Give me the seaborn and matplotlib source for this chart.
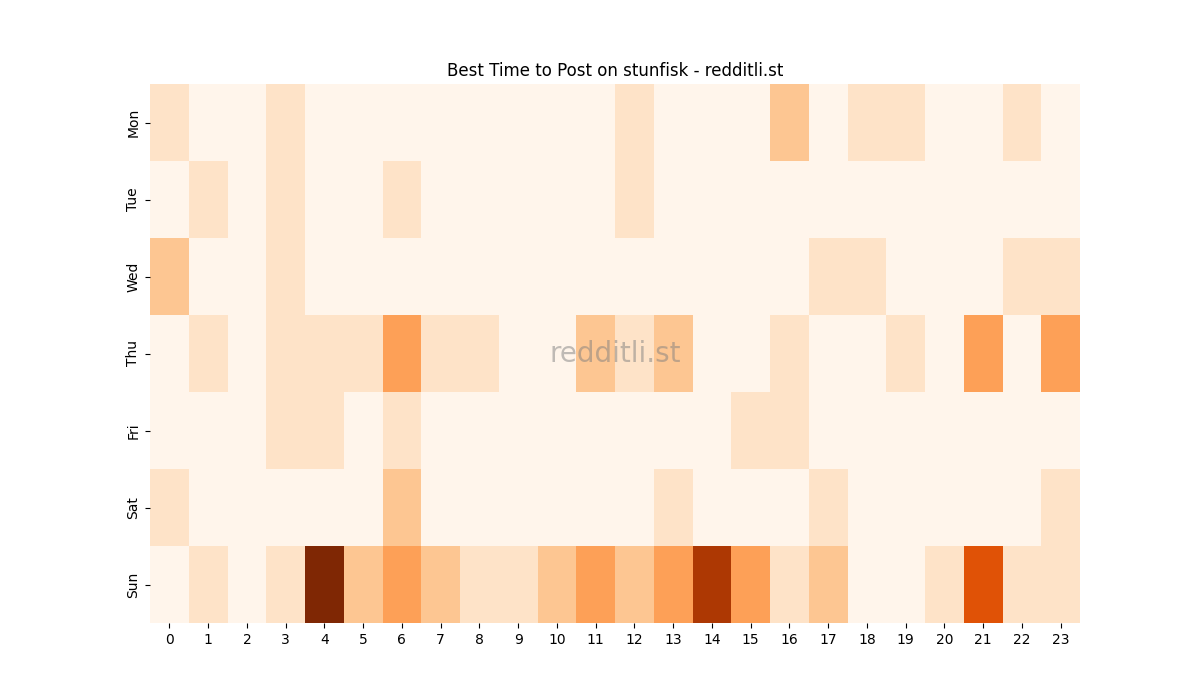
import seaborn as sns
import matplotlib.pyplot as plt
import pandas as pd

days = ["Mon", "Tue", "Wed", "Thu", "Fri", "Sat", "Sun"]
hours = list(range(24))

mon = [1, 0, 0, 1, 0, 0, 0, 0, 0, 0, 0, 0, 1, 0, 0, 0, 2, 0, 1, 1, 0, 0, 1, 0]
tue = [0, 1, 0, 1, 0, 0, 1, 0, 0, 0, 0, 0, 1, 0, 0, 0, 0, 0, 0, 0, 0, 0, 0, 0]
wed = [2, 0, 0, 1, 0, 0, 0, 0, 0, 0, 0, 0, 0, 0, 0, 0, 0, 1, 1, 0, 0, 0, 1, 1]
thu = [0, 1, 0, 1, 1, 1, 3, 1, 1, 0, 0, 2, 1, 2, 0, 0, 1, 0, 0, 1, 0, 3, 0, 3]
fri = [0, 0, 0, 1, 1, 0, 1, 0, 0, 0, 0, 0, 0, 0, 0, 1, 1, 0, 0, 0, 0, 0, 0, 0]
sat = [1, 0, 0, 0, 0, 0, 2, 0, 0, 0, 0, 0, 0, 1, 0, 0, 0, 1, 0, 0, 0, 0, 0, 1]
sun = [0, 1, 0, 1, 7, 2, 3, 2, 1, 1, 2, 3, 2, 3, 6, 3, 1, 2, 0, 0, 1, 5, 1, 1]

data = pd.DataFrame([mon, tue, wed, thu, fri, sat, sun], index=days, columns=hours)

fig, ax = plt.subplots(figsize=(12, 7), dpi=100)
sns.heatmap(data, cmap="Oranges", cbar=False, ax=ax)
ax.set_title("Best Time to Post on stunfisk - redditli.st")
ax.set_xlabel("")
ax.set_ylabel("")
ax.text(0.5, 0.5, "redditli.st", transform=ax.transAxes, ha="center", va="center",
        fontsize=20, color="gray", alpha=0.5)
plt.savefig("out.png")
